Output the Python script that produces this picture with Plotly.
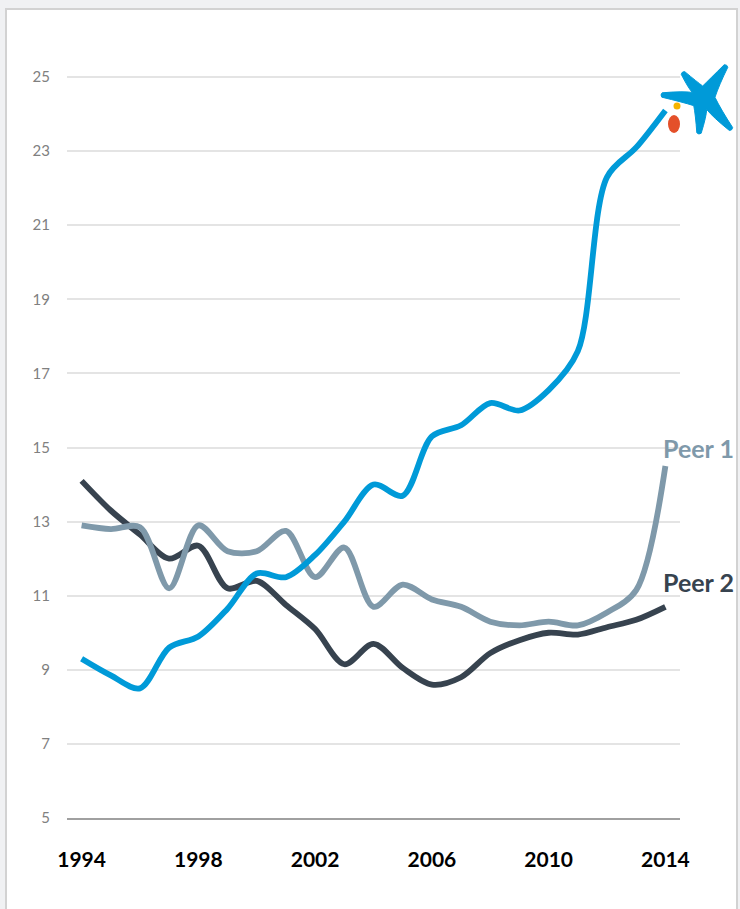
import math
import plotly.graph_objects as go

# Series values (ratio, %) by year
years = list(range(1994, 2015))
caixabank = [9.3, 8.85, 8.5, 9.6, 9.9, 10.65, 11.6, 11.5, 12.1, 13.0, 14.0, 13.7,
             15.3, 15.6, 16.2, 16.0, 16.55, 17.6, 22.3, 23.1, 24.1]
peer1 = [12.9, 12.8, 12.85, 11.2, 12.9, 12.2, 12.2, 12.75, 11.5, 12.3, 10.7, 11.3,
         10.9, 10.7, 10.3, 10.2, 10.3, 10.2, 10.55, 11.15, 14.5]
peer2 = [14.1, 13.3, 12.65, 12.0, 12.35, 11.2, 11.4, 10.75, 10.1, 9.15, 9.7, 9.05,
         8.6, 8.8, 9.45, 9.8, 10.0, 9.95, 10.15, 10.35, 10.7]

x_ticks = [1994, 1998, 2002, 2006, 2010, 2014]
y_ticks = [5, 7, 9, 11, 13, 15, 17, 19, 21, 23, 25]

BLUE = "#009ad8"
PEER1_COLOR = "#7f99aa"
PEER2_COLOR = "#37434f"

W, H = 740, 909
M_L, M_R, M_T, M_B = 67, 60, 40, 91
PW, PH = W - M_L - M_R, H - M_T - M_B


def px(x):
    return (x - M_L) / PW


def py(y):
    return (H - M_B - y) / PH


fig = go.Figure()
for vals, color in [(peer2, PEER2_COLOR), (peer1, PEER1_COLOR), (caixabank, BLUE)]:
    fig.add_trace(go.Scatter(
        x=years, y=vals, mode="lines",
        line=dict(color=color, width=5.8, shape="spline", smoothing=0.9),
        hoverinfo="skip", showlegend=False, cliponaxis=False,
    ))

# Series labels at the right end
for label, ypix, color in [("Peer 1", 448, PEER1_COLOR), ("Peer 2", 582, PEER2_COLOR)]:
    fig.add_annotation(xref="paper", yref="paper", x=px(698), y=py(ypix),
                       xanchor="center", yanchor="middle",
                       text=f"<b>{label}</b>", showarrow=False,
                       font=dict(family="Lato", size=25, color=color))

shapes = []
# White card with thin border
shapes.append(dict(type="rect", xref="paper", yref="paper", layer="below",
                   x0=px(6), x1=px(737), y0=py(930), y1=py(9),
                   fillcolor="white", line=dict(color="#d2d2d2", width=2)))

# Star logo: five tapered, slightly bowed arms around a centre point
cx, cy = 703, 98
tips = [(731, 129), (699, 133), (662, 95), (683, 73), (726, 66)]
angles = [math.atan2(ty - cy, tx - cx) % (2 * math.pi) for tx, ty in tips]
order = sorted(range(len(tips)), key=lambda i: angles[i])


def P(x, y):
    return f"{px(x):.5f},{py(y):.5f}"


inner = []
for k, i in enumerate(order):
    a = angles[i]
    nxt = angles[order[(k + 1) % len(order)]]
    if nxt < a:
        nxt += 2 * math.pi
    mid = (a + nxt) / 2
    inner.append((cx + 12 * math.cos(mid), cy + 12 * math.sin(mid)))

segs = []
for k, i in enumerate(order):
    tx, ty = tips[i]
    a = angles[i]
    ux, uy = math.cos(a), math.sin(a)
    nx_, ny_ = -uy, ux
    half = 2.2
    t1 = (tx - half * nx_, ty - half * ny_)
    t2 = (tx + half * nx_, ty + half * ny_)
    prev_in = inner[k - 1]
    next_in = inner[k]
    L = math.hypot(tx - cx, ty - cy)
    bulge = 5.5
    # control points halfway along the arm, pushed outwards from its axis
    c1 = (cx + ux * L * 0.5 - nx_ * bulge, cy + uy * L * 0.5 - ny_ * bulge)
    c2 = (cx + ux * L * 0.5 + nx_ * bulge, cy + uy * L * 0.5 + ny_ * bulge)
    if k == 0:
        segs.append("M " + P(*prev_in))
    segs.append("Q " + P(*c1) + " " + P(*t1))
    segs.append("Q " + P(tx + ux * 2, ty + uy * 2) + " " + P(*t2))
    segs.append("Q " + P(*c2) + " " + P(*next_in))
path = " ".join(segs) + " Z"
shapes.append(dict(type="path", xref="paper", yref="paper", path=path,
                   fillcolor=BLUE, line=dict(color=BLUE, width=1)))
shapes.append(dict(type="circle", xref="paper", yref="paper",
                   x0=px(673.5), x1=px(680.5), y0=py(109.5), y1=py(102.5),
                   fillcolor="#f5b400", line=dict(width=0)))
shapes.append(dict(type="circle", xref="paper", yref="paper",
                   x0=px(668), x1=px(680), y0=py(133), y1=py(115),
                   fillcolor="#e4502a", line=dict(width=0)))

fig.update_layout(
    width=W, height=H,
    margin=dict(l=M_L, r=M_R, t=M_T, b=M_B),
    paper_bgcolor="#f0f1f3",
    plot_bgcolor="white",
    shapes=shapes,
    xaxis=dict(range=[1993.5, 2014.5], tickvals=x_ticks, ticktext=[str(v) for v in x_ticks],
               showgrid=False, zeroline=False, showline=True, linecolor="#a0a0a0", linewidth=2,
               ticks="", ticklabelstandoff=22,
               tickfont=dict(family="Lato", size=21, color="#000000", weight="bold")),
    yaxis=dict(range=[5, 26], tickvals=y_ticks, showgrid=True, gridcolor="#e4e4e4", gridwidth=2,
               zeroline=False, showline=False, ticks="", ticklabelstandoff=16,
               tickfont=dict(family="Lato", size=15, color="#808080")),
)

fig.write_html("out.html")
